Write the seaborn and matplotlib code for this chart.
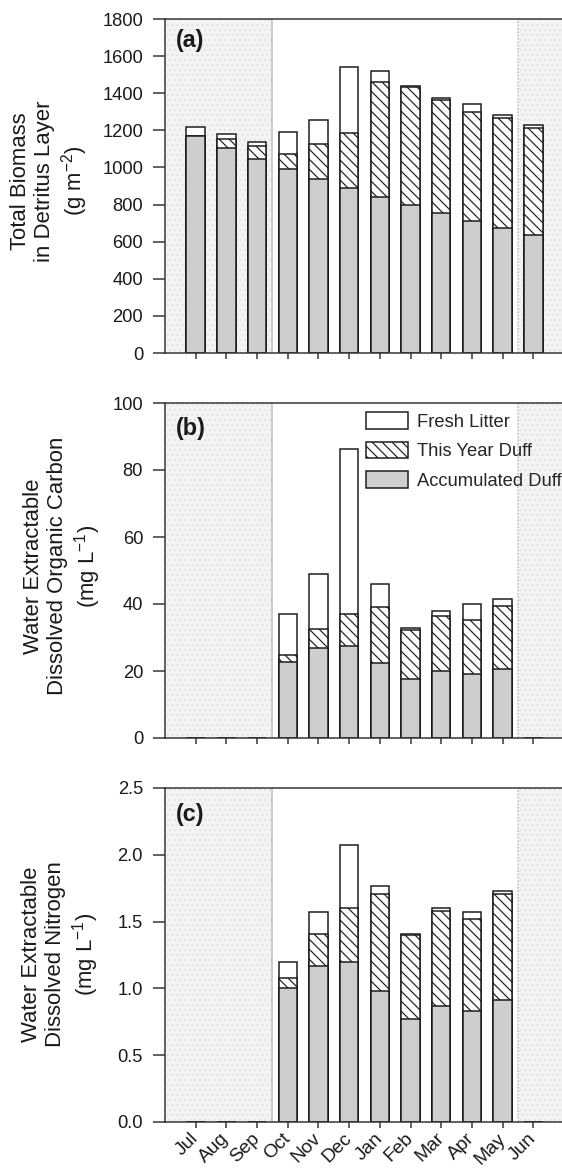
import numpy as np
import pandas as pd
import matplotlib
matplotlib.use("Agg")
import matplotlib.pyplot as plt
from matplotlib.patches import Patch
import seaborn as sns

# ---------------- data ----------------
months = ["Jul", "Aug", "Sep", "Oct", "Nov", "Dec", "Jan", "Feb", "Mar", "Apr", "May", "Jun"]

# (a) Total biomass in detritus layer (g m-2)
acc_a = [1170, 1104, 1047, 989, 937, 887, 840, 795, 752, 713, 673, 637]
duff_a = [0, 49, 66, 83, 190, 300, 621, 639, 609, 585, 594, 575]
fresh_a = [49, 25, 22, 118, 128, 357, 58, 6, 12, 43, 15, 18]

# (b) Water extractable DOC (mg L-1)
acc_b = [0, 0, 0, 22.8, 27.0, 27.6, 22.5, 17.6, 19.9, 19.1, 20.7, 0]
duff_b = [0, 0, 0, 2.0, 5.5, 9.3, 16.6, 14.6, 16.4, 16.1, 18.6, 0]
fresh_b = [0, 0, 0, 12.3, 16.4, 49.4, 6.9, 0.5, 1.5, 4.7, 2.1, 0]

# (c) Water extractable DN (mg L-1)
acc_c = [0, 0, 0, 1.00, 1.17, 1.20, 0.98, 0.77, 0.87, 0.83, 0.91, 0]
duff_c = [0, 0, 0, 0.08, 0.24, 0.40, 0.73, 0.63, 0.71, 0.69, 0.80, 0]
fresh_c = [0, 0, 0, 0.12, 0.16, 0.47, 0.06, 0.01, 0.02, 0.05, 0.02, 0]

legend_labels = ["Fresh Litter", "This Year Duff", "Accumulated Duff"]
panel_labels = ["(a)", "(b)", "(c)"]
ylabels = [
    "Total Biomass\nin Detritus Layer\n(g m$^{-2}$)",
    "Water Extractable\nDissolved Organic Carbon\n(mg L$^{-1}$)",
    "Water Extractable\nDissolved Nitrogen\n(mg L$^{-1}$)",
]
yticks = [np.arange(0, 1801, 200), np.arange(0, 101, 20), np.arange(0, 2.51, 0.5)]
ylims = [(0, 1800), (0, 100), (0, 2.5)]
ytick_fmt = ["{:.0f}", "{:.0f}", "{:.1f}"]

# ---------------- style ----------------
sns.set_style("ticks")
plt.rcParams["font.family"] = ["Liberation Sans", "DejaVu Sans"]
plt.rcParams["mathtext.fontset"] = "custom"
plt.rcParams["mathtext.rm"] = "Liberation Sans"
plt.rcParams["mathtext.default"] = "rm"
plt.rcParams["hatch.linewidth"] = 0.7
plt.rcParams["hatch.color"] = "black"

DPI = 120
fig = plt.figure(figsize=(562 / DPI, 1168 / DPI), dpi=DPI)

W, H = 562, 1168
left = 165 / W
width = 399 / W
panels_px = [(19, 353), (403, 738), (788, 1122)]
label_x_px = [50, 63, 61]
label_y = [0.515, 0.513, 0.503]
panel_y = [0.935, 0.925, 0.922]

edge = "#1a1a1a"
spine_c = "#333333"
grey = "#cecece"

data = [
    (acc_a, duff_a, fresh_a),
    (acc_b, duff_b, fresh_b),
    (acc_c, duff_c, fresh_c),
]

for i, ((top, bot), (acc, duff, fresh)) in enumerate(zip(panels_px, data)):
    ax = fig.add_axes([left, 1 - bot / H, width, (bot - top) / H])
    # shaded off-season regions
    ax.axvspan(-1, 2.5, facecolor="#f4f4f4", edgecolor="#e2e2e2", hatch="....",
               linewidth=0, zorder=0)
    ax.axvspan(10.5, 12, facecolor="#f4f4f4", edgecolor="#e2e2e2", hatch="....",
               linewidth=0, zorder=0)
    ax.axvline(2.5, color="#c4c4c4", lw=1.0, zorder=0.5)
    ax.axvline(10.5, color="#c4c4c4", lw=1.0, ls=(0, (1, 1)), zorder=0.5)

    acc = np.array(acc, dtype=float)
    duff = np.array(duff, dtype=float)
    fresh = np.array(fresh, dtype=float)
    df = pd.DataFrame({
        "month": months,
        "total": acc + duff + fresh,
        "duff_top": acc + duff,
        "acc": acc,
    })
    common = dict(x="month", order=months, width=0.6, saturation=1,
                  edgecolor=edge, linewidth=0.9, ax=ax, errorbar=None)
    sns.barplot(data=df, y="total", color="white", **common)
    sns.barplot(data=df, y="duff_top", color="white", hatch="\\\\\\\\", **common)
    sns.barplot(data=df, y="acc", color=grey, **common)

    ax.set_xlim(-1, 12)
    ax.set_ylim(*ylims[i])
    ax.set_yticks(yticks[i])
    ax.set_yticklabels([ytick_fmt[i].format(v) for v in yticks[i]])
    ax.set_xticks(range(len(months)))
    ax.set_xlabel("")
    if i < 2:
        ax.set_xticklabels([])
    else:
        ax.set_xticklabels(months, rotation=45, ha="right", va="center",
                           rotation_mode="anchor")

    for s in ax.spines.values():
        s.set_color(spine_c)
        s.set_linewidth(0.9)
        s.set_visible(True)
    ax.tick_params(axis="y", direction="out", length=7.2, width=0.9, color=spine_c,
                   pad=6, labelsize=11, labelcolor="#1a1a1a")
    ax.tick_params(axis="x", direction="out", length=3.8, width=0.9, color=spine_c,
                   pad=4.5, labelsize=11.5, labelcolor="#1a1a1a")

    ax.set_ylabel(ylabels[i], fontsize=13.3, linespacing=1.2,
                  color="#1a1a1a", va="center", ha="center")
    ax.yaxis.set_label_coords((label_x_px[i] - 165) / 399, label_y[i])

    ax.text(0.028, panel_y[i], panel_labels[i], transform=ax.transAxes,
            fontsize=14, fontweight="bold", ha="left", va="center", color="#1a1a1a")

    if i == 1:
        handles = [
            Patch(facecolor="white", edgecolor=edge, linewidth=0.9),
            Patch(facecolor="white", edgecolor=edge, linewidth=0.9, hatch="\\\\\\\\"),
            Patch(facecolor=grey, edgecolor=edge, linewidth=0.9),
        ]
        ax.legend(handles, legend_labels, loc="upper left", bbox_to_anchor=(0.504, 0.972),
                  frameon=False, fontsize=11, handlelength=2.3, handleheight=1.0,
                  labelspacing=0.6, handletextpad=0.45, borderpad=0, borderaxespad=0)

fig.savefig("out.png", dpi=DPI)
